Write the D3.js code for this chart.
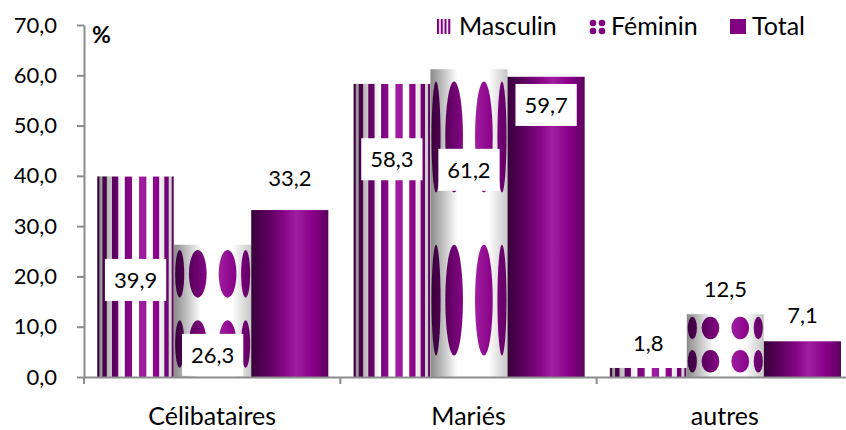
<!DOCTYPE html>
<html>
<head>
<meta charset="utf-8">
<script src="https://cdn.jsdelivr.net/npm/d3@7"></script>
<style>
  body { margin: 0; background: #fff; }
  svg { display: block; font-family: Lato, "Open Sans", sans-serif; }
</style>
</head>
<body>
<svg id="chart" width="846" height="430"></svg>
<script>
// data
var categories = ['Célibataires', 'Mariés', 'autres'];
var series = ['Masculin', 'Féminin', 'Total'];
var masculin = [39.9, 58.3, 1.8];
var feminin = [26.3, 61.2, 12.5];
var total = [33.2, 59.7, 7.1];
var yTicks = [0, 10, 20, 30, 40, 50, 60, 70];

// labels were dragged around by hand in the original, level in axis units
var labelLevels = [
    [19.3, 43.3, 6.8],
    [4.4, 41.2, 17.5],
    [39.6, 54.1, 12.3]
];

var values = [masculin, feminin, total];

var fr = d3.formatLocale({decimal: ',', thousands: ' ', grouping: [3], currency: ['', ' €']});
var fmt = fr.format('.1f');

var svg = d3.select('#chart'),
    margin = {left: 84, top: 25, bottom: 377, right: 853};

var x0 = d3.scaleBand()
    .domain(categories)
    .range([margin.left, margin.right]);

var x1 = d3.scaleBand()
    .domain(series)
    .range([13, x0.bandwidth() - 12]);

var y = d3.scaleLinear()
    .domain([0, 70])
    .range([margin.bottom, margin.top]);

var defs = svg.append('defs');

// cylinder look for the white parts
var silver = defs.append('linearGradient').attr('id', 'silver');
[[0, '#8a8a8a'], [0.15, '#bcbcbc'], [0.35, '#ffffff'], [0.75, '#ffffff'], [1, '#c6c6c6']]
    .forEach(function(s) { silver.append('stop').attr('offset', s[0]).attr('stop-color', s[1]); });

// cylinder look for the purple parts
var plum = defs.append('linearGradient').attr('id', 'plum');
[[0, '#38003a'], [0.2, '#5a005c'], [0.42, '#840684'], [0.58, '#a01ea0'], [0.8, '#880088'], [1, '#5c005e']]
    .forEach(function(s) { plum.append('stop').attr('offset', s[0]).attr('stop-color', s[1]); });

var stripesIcon = defs.append('pattern')
    .attr('id', 'stripesIcon')
    .attr('patternUnits', 'objectBoundingBox')
    .attr('patternContentUnits', 'objectBoundingBox')
    .attr('width', 0.25).attr('height', 1);
stripesIcon.append('rect')
    .attr('width', 0.14).attr('height', 1)
    .attr('fill', '#800080');

// build bar records
var bars = [];
categories.forEach(function(c, ci) {
    series.forEach(function(s, si) {
        bars.push({cat: c, ser: s, si: si, ci: ci, value: values[si][ci], level: labelLevels[si][ci]});
    });
});

function barX(d) { return x0(d.cat) + x1(d.ser); }
function barY(d) { return y(d.value); }
function barH(d) { return y(0) - y(d.value); }

// texture wraps round a cylinder: angle (deg) -> x inside the bar
function wrap(d, deg) {
    var r = x1.bandwidth() / 2;
    return barX(d) + r + r * Math.sin(Math.max(-90, Math.min(90, deg)) * Math.PI / 180);
}

var stripeAngles = [-75.25, -53.75, -32.25, -10.75, 10.75, 32.25, 53.75, 75.25];
var dotAngles = [-62, -23.5, 23.5, 62];
var dotRows = [0.22, 0.75];

var masks = defs.selectAll('mask')
    .data(bars.filter(function(d) { return d.si < 2; }))
    .enter().append('mask')
    .attr('id', function(d) { return 'm' + d.si + '_' + d.ci; })
    .attr('maskUnits', 'userSpaceOnUse')
    .attr('x', 0).attr('y', 0).attr('width', 846).attr('height', 430);

masks.filter(function(d) { return d.si === 0; })
    .each(function(d) {
        d3.select(this).selectAll('rect')
            .data(stripeAngles)
            .enter().append('rect')
            .attr('x', function(a) { return wrap(d, a - 5.5); })
            .attr('width', function(a) { return wrap(d, a + 5.5) - wrap(d, a - 5.5); })
            .attr('y', barY(d))
            .attr('height', barH(d))
            .attr('fill', '#fff');
    });

masks.filter(function(d) { return d.si === 1; })
    .each(function(d) {
        var cells = [];
        dotRows.forEach(function(r) { dotAngles.forEach(function(a) { cells.push([a, r]); }); });
        d3.select(this).selectAll('ellipse')
            .data(cells)
            .enter().append('ellipse')
            .attr('cx', function(c) { return (wrap(d, c[0] - 14.5) + wrap(d, c[0] + 14.5)) / 2; })
            .attr('rx', function(c) { return (wrap(d, c[0] + 14.5) - wrap(d, c[0] - 14.5)) / 2; })
            .attr('cy', function(c) { return barY(d) + c[1] * barH(d); })
            .attr('ry', 0.18 * barH(d))
            .attr('fill', '#fff');
    });

// y axis
var yAxis = svg.append('g')
    .attr('class', 'y axis')
    .attr('transform', 'translate(' + margin.left + ',0)')
    .call(d3.axisLeft(y).tickValues(yTicks).tickFormat(fmt).tickSize(7).tickSizeOuter(0).tickPadding(20));
yAxis.select('.domain').attr('stroke', '#8c8c8c').attr('stroke-width', 2);
yAxis.selectAll('.tick line').attr('stroke', '#8c8c8c').attr('stroke-width', 2);
yAxis.selectAll('text').attr('font-size', 22).attr('font-family', 'Lato, sans-serif').attr('fill', '#000');

svg.append('text')
    .attr('x', 92)
    .attr('y', 43)
    .attr('font-size', 23)
    .attr('font-weight', 'bold')
    .text('%');

// bars
var bar = svg.append('g').attr('class', 'bars')
    .selectAll('g')
    .data(bars)
    .enter().append('g');

bar.append('rect')
    .attr('x', barX)
    .attr('y', barY)
    .attr('width', x1.bandwidth())
    .attr('height', barH)
    .attr('fill', function(d) { return d.si === 2 ? 'url(#plum)' : 'url(#silver)'; });

bar.filter(function(d) { return d.si < 2; })
    .append('rect')
    .attr('x', barX)
    .attr('y', barY)
    .attr('width', x1.bandwidth())
    .attr('height', barH)
    .attr('fill', 'url(#plum)')
    .attr('mask', function(d) { return 'url(#m' + d.si + '_' + d.ci + ')'; });

// x axis
var xAxis = svg.append('g')
    .attr('class', 'x axis')
    .attr('transform', 'translate(0,' + margin.bottom + ')')
    .call(d3.axisBottom(x0).tickSize(0).tickPadding(30));
xAxis.select('.domain').attr('stroke', '#8c8c8c').attr('stroke-width', 2);
xAxis.selectAll('text').attr('font-size', 25).attr('font-family', 'Lato, sans-serif').attr('fill', '#000');

xAxis.selectAll('line.sep')
    .data(categories.map(function(c) { return x0(c); }).concat([x0.range()[1]]))
    .enter().append('line')
    .attr('class', 'sep')
    .attr('x1', function(d) { return d; })
    .attr('x2', function(d) { return d; })
    .attr('y1', 0)
    .attr('y2', 7)
    .attr('stroke', '#8c8c8c')
    .attr('stroke-width', 2);

// value labels
var lab = svg.append('g').attr('class', 'labels')
    .selectAll('g')
    .data(bars)
    .enter().append('g')
    .attr('transform', function(d) {
        return 'translate(' + (barX(d) + x1.bandwidth() / 2) + ',' + y(d.level) + ')';
    });

lab.append('text')
    .attr('text-anchor', 'middle')
    .attr('dy', '0.35em')
    .attr('font-size', 22)
    .text(function(d) { return fmt(d.value); });

lab.insert('rect', 'text')
    .each(function() {
        var bb = this.parentNode.querySelector('text').getBBox();
        d3.select(this)
            .attr('x', bb.x - 9)
            .attr('y', -21)
            .attr('width', bb.width + 18)
            .attr('height', 42)
            .attr('fill', '#fff');
    });

// legend
var legend = svg.append('g').attr('class', 'legend');
var legendX = [437, 589, 730];

legend.selectAll('text')
    .data(series)
    .enter().append('text')
    .attr('x', function(d, i) { return legendX[i] + 22; })
    .attr('y', 35)
    .attr('font-size', 25)
    .text(function(d) { return d; });

legend.append('rect')
    .attr('x', legendX[0]).attr('y', 19)
    .attr('width', 15).attr('height', 15)
    .attr('fill', 'url(#stripesIcon)');

legend.selectAll('circle')
    .data([[0, 0], [1, 0], [0, 1], [1, 1]])
    .enter().append('circle')
    .attr('cx', function(d) { return legendX[1] + 4 + d[0] * 9; })
    .attr('cy', function(d) { return 23 + d[1] * 8; })
    .attr('r', 3.3)
    .attr('fill', '#800080');

legend.append('rect')
    .attr('x', legendX[2]).attr('y', 19)
    .attr('width', 16).attr('height', 15)
    .attr('fill', '#800080');
</script>
</body>
</html>
